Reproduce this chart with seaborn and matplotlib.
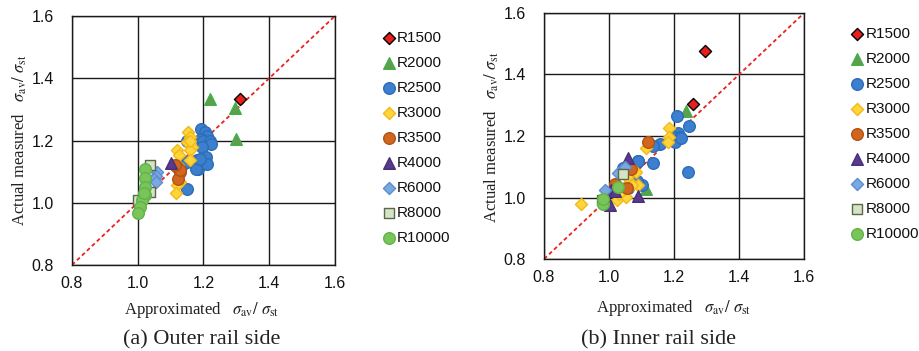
import matplotlib
matplotlib.use("Agg")
import matplotlib.pyplot as plt
import seaborn as sns
import pandas as pd

# curve radius groups (legend order)
series = ["R1500", "R2000", "R2500", "R3000", "R3500", "R4000", "R6000", "R8000", "R10000"]

# (a) outer rail side: approximated vs actual measured sigma_av / sigma_st
outer_series = (["R1500"]
                + ["R2000"] * 3
                + ["R2500"] * 20
                + ["R3000"] * 13
                + ["R3500"] * 5
                + ["R4000"]
                + ["R6000"] * 4
                + ["R8000"] * 3
                + ["R10000"] * 8)
outer_x = [1.31,
           1.22, 1.297, 1.30,
           1.193, 1.205, 1.212, 1.193, 1.20, 1.22, 1.222, 1.195, 1.15, 1.137,
           1.15, 1.18, 1.19, 1.185, 1.20, 1.208, 1.21, 1.178, 1.149, 1.19,
           1.154, 1.16, 1.149, 1.164, 1.159, 1.119, 1.127, 1.158, 1.129, 1.119,
           1.116, 1.124, 1.16,
           1.119, 1.129, 1.124, 1.13, 1.114,
           1.101,
           1.06, 1.056, 1.05, 1.055,
           1.038, 1.038, 1.0,
           1.023, 1.023, 1.023, 1.023, 1.013, 1.008, 1.0, 1.02]
outer_y = [1.333,
           1.333, 1.305, 1.206,
           1.238, 1.228, 1.215, 1.206, 1.20, 1.20, 1.19, 1.18, 1.20, 1.126,
           1.13, 1.137, 1.12, 1.11, 1.13, 1.148, 1.124, 1.11, 1.043, 1.14,
           1.228, 1.212, 1.196, 1.18, 1.169, 1.169, 1.153, 1.139, 1.067, 1.057,
           1.033, 1.121, 1.20,
           1.116, 1.10, 1.075, 1.105, 1.12,
           1.128,
           1.098, 1.086, 1.075, 1.067,
           1.123, 1.035, 1.008,
           1.11, 1.08, 1.051, 1.025, 1.008, 0.987, 0.966, 1.03]

# (b) inner rail side
inner_series = (["R1500"] * 2
                + ["R2000"] * 2
                + ["R2500"] * 18
                + ["R3000"] * 14
                + ["R3500"] * 4
                + ["R4000"] * 5
                + ["R6000"] * 3
                + ["R8000"] * 2
                + ["R10000"] * 3)
inner_x = [1.295, 1.259,
           1.236, 1.115,
           1.208, 1.247, 1.213, 1.197, 1.218, 1.203, 1.156, 1.136, 1.134, 1.09,
           1.244, 1.043, 1.10, 1.059, 1.074, 1.089, 1.222, 1.086,
           0.915, 1.023, 1.052, 1.09, 1.064, 1.054, 1.084, 1.115, 1.185, 1.185,
           1.182, 1.043, 1.03, 1.07,
           1.12, 1.069, 1.054, 1.018,
           1.059, 1.007, 1.09, 1.003, 1.018,
           0.987, 1.028, 1.05,
           1.043, 0.977,
           1.028, 0.98, 0.982]
inner_y = [1.478, 1.304,
           1.28, 1.027,
           1.264, 1.231, 1.209, 1.198, 1.198, 1.179, 1.174, 1.166, 1.113, 1.12,
           1.084, 1.095, 1.041, 1.03, 1.068, 1.12, 1.195, 1.055,
           0.979, 0.992, 1.002, 1.04, 1.051, 1.067, 1.083, 1.161, 1.226, 1.198,
           1.18, 1.025, 1.01, 1.04,
           1.18, 1.093, 1.03, 1.044,
           1.127, 1.025, 1.005, 0.976, 1.02,
           1.025, 1.079, 1.10,
           1.077, 0.992,
           1.033, 0.979, 0.994]

# marker, face colour, edge colour, size
styles = {
    "R1500": ("D", "#e8201c", "#000000", 38),
    "R2000": ("^", "#5f9e4c", "#3fb04a", 70),
    "R2500": ("o", "#3b7fce", "#2e6db8", 70),
    "R3000": ("D", "#ffd53a", "#f2b81a", 38),
    "R3500": ("o", "#d2661e", "#b05416", 70),
    "R4000": ("^", "#5a3a8c", "#46307a", 70),
    "R6000": ("D", "#7ba9de", "#5b8ed2", 38),
    "R8000": ("s", "#d5e4c6", "#5a6848", 55),
    "R10000": ("o", "#79c55a", "#62b348", 70),
}

sns.set_style("white")
plt.rcParams["font.family"] = ["Liberation Sans", "DejaVu Sans"]
plt.rcParams["mathtext.fontset"] = "stix"

fig = plt.figure(figsize=(9.19, 3.51), dpi=100)
ax1 = fig.add_axes([0.0783, 0.245, 0.286, 0.709])
ax2 = fig.add_axes([0.592, 0.262, 0.283, 0.701])

label_txt = r"$\sigma_{\rm av}/\ \sigma_{\rm st}$"


def draw(ax, names, xs, ys, leg_anchor, caption, cap_x):
    df = pd.DataFrame({"series": names, "x": xs, "y": ys})
    for name in series:
        sub = df[df["series"] == name]
        m, fc, ec, s = styles[name]
        sns.scatterplot(data=sub, x="x", y="y", ax=ax, marker=m, color=fc,
                        edgecolor=ec, s=s, linewidth=1.0, label=name, zorder=3)
    ax.plot([0.8, 1.6], [0.8, 1.6], ls=(0, (2.2, 1.6)), color="#e8231f",
            lw=1.3, zorder=2)
    ax.set_xlim(0.8, 1.6)
    ax.set_ylim(0.8, 1.6)
    ticks = [0.8, 1.0, 1.2, 1.4, 1.6]
    ax.set_xticks(ticks)
    ax.set_yticks(ticks)
    ax.set_xticklabels([f"{t:.1f}" for t in ticks])
    ax.set_yticklabels([f"{t:.1f}" for t in ticks])
    ax.grid(True, color="#1a1a1a", lw=1.0, zorder=1)
    ax.set_axisbelow(True)
    for sp in ax.spines.values():
        sp.set_color("#1a1a1a")
        sp.set_linewidth(1.0)
    ax.tick_params(axis="both", length=0, labelsize=11.5, colors="#111111")
    ax.tick_params(axis="y", pad=13)
    ax.tick_params(axis="x", pad=8)

    ax.set_xlabel("Approximated   " + label_txt, family="Liberation Serif",
                  fontsize=12, color="#222222")
    ax.set_ylabel("Actual measured   " + label_txt, family="Liberation Serif",
                  fontsize=12, color="#222222")
    ax.xaxis.label.set_verticalalignment("center")
    ax.yaxis.label.set_verticalalignment("center")

    leg = ax.legend(loc="upper left", bbox_to_anchor=leg_anchor,
                    bbox_transform=fig.transFigure, frameon=False,
                    fontsize=11, handletextpad=0.0, labelspacing=0.72,
                    handlelength=1.1, borderaxespad=0)
    for t in leg.get_texts():
        t.set_color("#111111")

    fig.text(cap_x, 0.031, caption, ha="center", va="center",
             family="Liberation Serif", fontsize=16, color="#222222")


draw(ax1, outer_series, outer_x, outer_y, (0.407, 0.93),
     "(a) Outer rail side", 0.22)
ax1.xaxis.set_label_coords(0.494, -0.18)
ax1.yaxis.set_label_coords(-0.2, 0.502)

draw(ax2, inner_series, inner_x, inner_y, (0.917, 0.94),
     "(b) Inner rail side", 0.716)
ax2.xaxis.set_label_coords(0.497, -0.2)
ax2.yaxis.set_label_coords(-0.2, 0.496)

fig.savefig("out.png", dpi=100)
